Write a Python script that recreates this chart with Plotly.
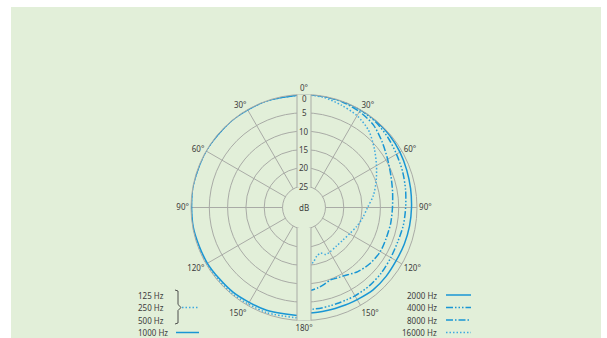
import plotly.graph_objects as go

W, H = 607, 338

# Relative sensitivity in dB (0 = on-axis), angles clockwise from the front
theta_right = [0, 10, 20, 30, 40, 50, 60, 70, 80, 90, 100, 110, 120, 130, 140, 150, 155, 160, 165, 170, 175, 180]
db_2000 = [0, 0, 0, 0, -0.1, -0.3, -0.6, -1.0, -1.3, -1.5, -1.6, -1.7, -1.8, -1.6, -1.5, -1.8, -1.9, -2.0, -2.0, -2.0, -2.0, -2.0]
db_4000 = [0, 0, 0, -0.1, -0.4, -1.0, -1.7, -2.2, -2.7, -3.1, -3.3, -3.6, -3.5, -3.2, -3.0, -3.0, -3.1, -3.1, -3.1, -3.0, -3.0, -3.0]
db_8000 = [0, 0, -0.2, -0.6, -1.4, -3.0, -4.5, -5.6, -6.3, -6.7, -6.8, -6.9, -6.8, -7.2, -8.0, -9.3, -9.6, -9.8, -9.2, -8.6, -8.2, -8.2]
db_16000 = [0, -0.3, -1.1, -1.9, -3.4, -5.8, -8.0, -9.9, -11.6, -13.5, -14.6, -15.6, -16.5, -17.0, -17.1, -16.8, -16.7, -17.6, -17.2, -15.8, -15.0, -14.8]

theta_left = [180, 200, 220, 240, 260, 280, 300, 320, 340, 360]
db_125_500 = [-0.5, -0.4, -0.25, -0.1, 0, 0, 0, 0, 0, 0]
db_1000 = [-1.2, -1.0, -0.7, -0.4, -0.15, 0, 0, 0, 0, 0]

ring_db = [0, -5, -10, -15, -20, -25]
ring_labels = ["0", "5", "10", "15", "20", "25"]
angle_ticks = [0, 30, 60, 90, 120, 150, 180, 210, 240, 270, 300, 330]
angle_labels = ["0°", "30°", "60°", "90°", "120°", "150°", "180°", "150°", "120°", "90°", "60°", "30°"]

legend_left = ["125 Hz", "250 Hz", "500 Hz", "1000 Hz"]
legend_right = ["2000 Hz", "4000 Hz", "8000 Hz", "16000 Hz"]

BG = "#e2efd9"
GRID = "#a9aba6"
BLUE = "#1996d4"
LIGHT = "#3fa9e0"
TXT = "#3c3c3c"
FONT = "Noto Sans"

DASH_4000 = "7px,2px,1.5px,2px,1.5px,2px,1.5px,2px"
DASH_8000 = "7px,2px,1.5px,2px"
DASH_DOT = "1.5px,2px"

# polar geometry in pixels
CX, CY, R = 304, 207.5, 113
HOLE = 0.19
BAND = 7


def px(x, y):
    return x / W, 1 - y / H


def ring_radius(db):
    return R * HOLE + (db + 25) / 25 * R * (1 - HOLE)


fig = go.Figure()

curves = [
    (theta_left, db_125_500, LIGHT, DASH_DOT),
    (theta_left, db_1000, BLUE, "solid"),
    (theta_right, db_2000, BLUE, "solid"),
    (theta_right, db_4000, BLUE, DASH_4000),
    (theta_right, db_8000, BLUE, DASH_8000),
    (theta_right, db_16000, LIGHT, DASH_DOT),
]
for th, db, col, dash in curves:
    fig.add_trace(go.Scatterpolar(
        theta=th, r=db, mode="lines",
        line=dict(color=col, width=1.5, dash=dash, shape="spline", smoothing=0.8),
        hoverinfo="skip", showlegend=False,
    ))

x0, y0 = px(CX - R, CY + R)
x1, y1 = px(CX + R, CY - R)

fig.update_layout(
    width=W, height=H,
    margin=dict(l=0, r=0, t=0, b=0),
    paper_bgcolor="white",
    showlegend=False,
    font=dict(family=FONT, size=8, color=TXT),
    polar=dict(
        domain=dict(x=[x0, x1], y=[y0, y1]),
        bgcolor="rgba(0,0,0,0)",
        hole=HOLE,
        angularaxis=dict(
            rotation=90, direction="clockwise",
            tickmode="array", tickvals=angle_ticks, ticktext=angle_labels,
            showgrid=True, gridcolor=GRID, gridwidth=1,
            showline=True, linecolor=GRID, linewidth=1,
            ticks="", tickfont=dict(family=FONT, size=8, color=TXT),
        ),
        radialaxis=dict(
            range=[-25, 0], tickmode="array", tickvals=ring_db,
            showgrid=True, gridcolor=GRID, gridwidth=1,
            showline=False, showticklabels=False, ticks="",
        ),
    ),
)

shapes = []
# green panel
pa = px(11, 338)
pb = px(601, 7)
shapes.append(dict(type="rect", xref="paper", yref="paper", layer="below",
                   x0=pa[0], y0=pa[1], x1=pb[0], y1=pb[1],
                   fillcolor=BG, line=dict(width=0)))

# vertical scale band at 0° and 180°
hole_px = R * HOLE
chord = (hole_px ** 2 - BAND ** 2) ** 0.5
for ya, yb in [(CY - R, CY - chord), (CY + chord, CY + R)]:
    a = px(CX - BAND, yb)
    b = px(CX + BAND, ya)
    shapes.append(dict(type="rect", xref="paper", yref="paper", layer="above",
                       x0=a[0], y0=a[1], x1=b[0], y1=b[1],
                       fillcolor=BG, line=dict(width=0)))
    for xe in (CX - BAND, CX + BAND):
        p = px(xe, ya)
        q = px(xe, yb)
        shapes.append(dict(type="line", xref="paper", yref="paper", layer="above",
                           x0=p[0], y0=p[1], x1=q[0], y1=q[1],
                           line=dict(color=GRID, width=1)))

annotations = []
for db, lab in zip(ring_db, ring_labels):
    y = CY - ring_radius(db) + (4 if db == 0 else 0)
    ax, ay = px(CX, y)
    annotations.append(dict(x=ax, y=ay, xref="paper", yref="paper", text=lab,
                            showarrow=False, xanchor="center", yanchor="middle"))
ax, ay = px(CX, CY)
annotations.append(dict(x=ax, y=ay, xref="paper", yref="paper", text="dB",
                        showarrow=False, xanchor="center", yanchor="middle"))

# legend, left group
left_rows = [295, 307.5, 320, 332.5]
for lab, yy in zip(legend_left, left_rows):
    xr = 170 if lab == "1000 Hz" else 166
    ax, ay = px(xr, yy)
    annotations.append(dict(x=ax, y=ay, xref="paper", yref="paper", text=lab,
                            showarrow=False, xanchor="right", yanchor="middle"))
# brace joining 125/250/500 Hz
bx, top, mid, bot = 175, 290, 307.5, 324
pts = [(bx, top), (bx + 3, top + 1), (bx + 3, mid - 3), (bx + 6, mid),
       (bx + 3, mid + 3), (bx + 3, bot - 1), (bx, bot)]
path = "M " + " L ".join("{:.5f},{:.5f}".format(*px(x, y)) for x, y in pts)
shapes.append(dict(type="path", xref="paper", yref="paper", layer="above",
                   path=path, line=dict(color=TXT, width=0.9)))
for xa, xb, yy, col, dash in [(182, 199, 307.5, LIGHT, DASH_DOT),
                              (176, 199, 332.5, BLUE, "solid")]:
    p, q = px(xa, yy), px(xb, yy)
    shapes.append(dict(type="line", xref="paper", yref="paper", layer="above",
                       x0=p[0], y0=p[1], x1=q[0], y1=q[1],
                       line=dict(color=col, width=1.5, dash=dash)))

# legend, right group
right_rows = [295, 307.5, 320, 332.5]
right_styles = [(BLUE, "solid"), (BLUE, DASH_4000), (BLUE, DASH_8000), (LIGHT, DASH_DOT)]
for lab, yy, (col, dash) in zip(legend_right, right_rows, right_styles):
    ax, ay = px(439, yy)
    annotations.append(dict(x=ax, y=ay, xref="paper", yref="paper", text=lab,
                            showarrow=False, xanchor="right", yanchor="middle"))
    p, q = px(446, yy), px(471, yy)
    shapes.append(dict(type="line", xref="paper", yref="paper", layer="above",
                       x0=p[0], y0=p[1], x1=q[0], y1=q[1],
                       line=dict(color=col, width=1.5, dash=dash)))

fig.update_layout(shapes=shapes, annotations=annotations)
fig.write_html("out.html")
